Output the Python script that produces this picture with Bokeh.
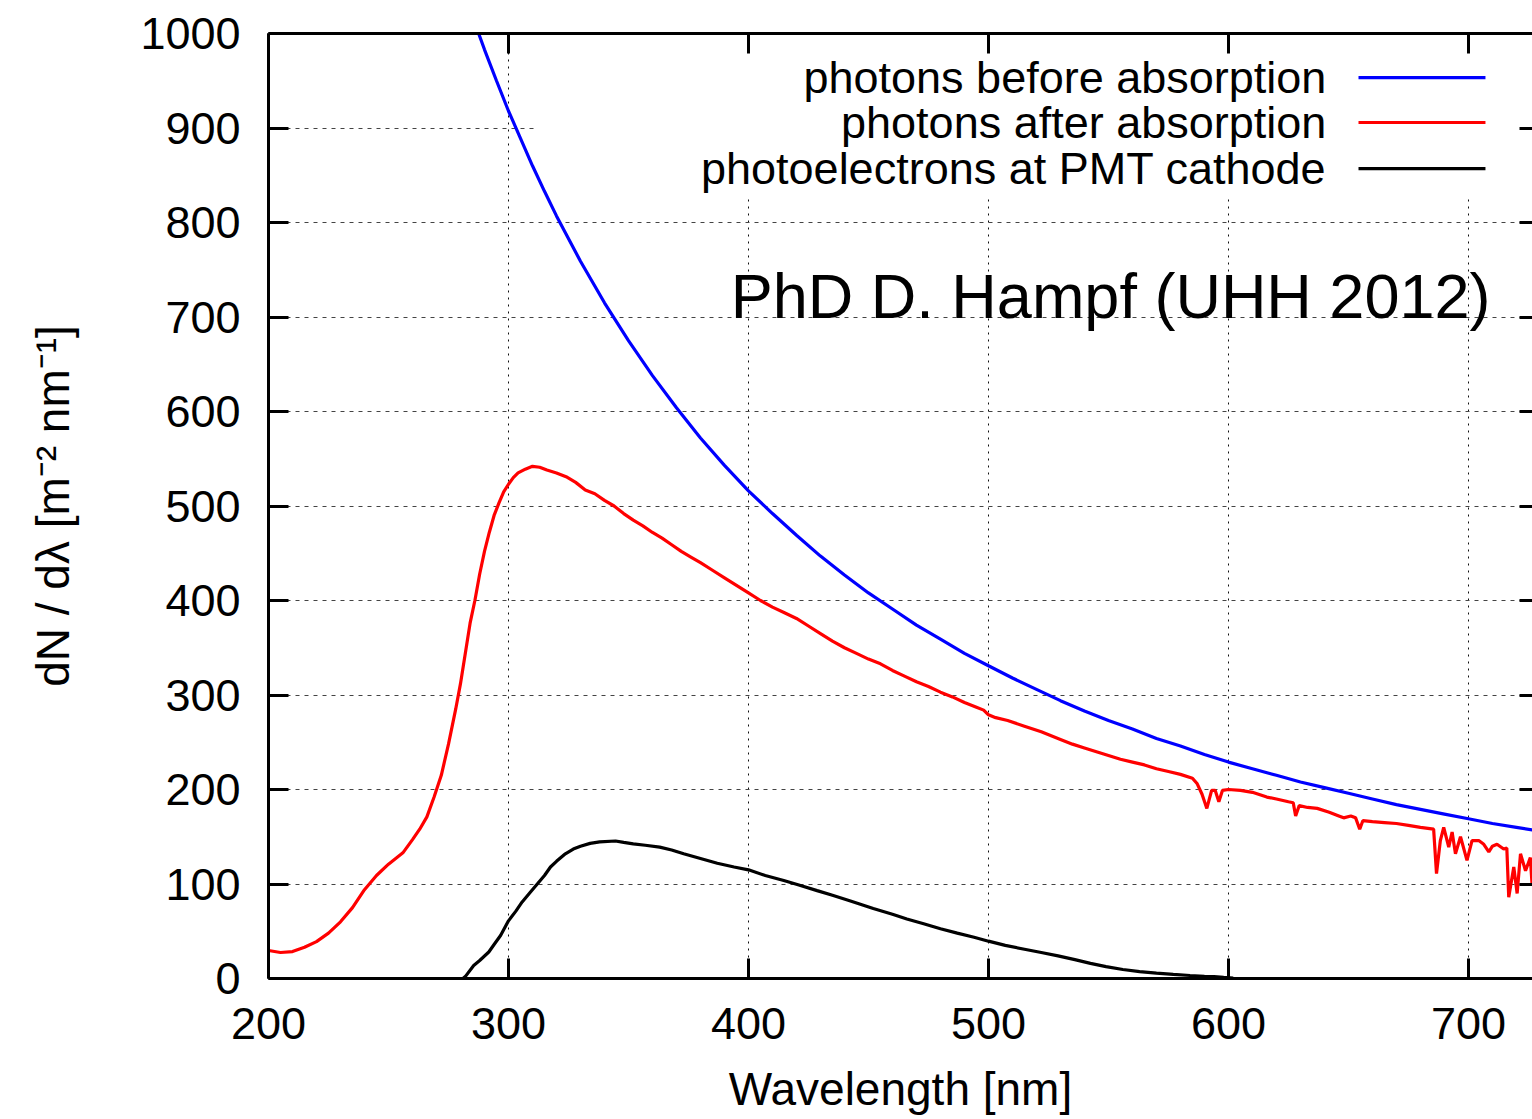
from bokeh.plotting import figure
from bokeh.models import Range1d, LinearAxis, FixedTicker, Label
from bokeh.embed import file_html
from bokeh.resources import INLINE
from bokeh.core.properties import value

FONT = "Liberation Sans"

# ---------------- data ----------------
wl_before = [275, 280, 285, 290, 295, 300, 305, 310, 315, 320, 330, 340, 350, 360, 370,
             380, 390, 400, 410, 420, 430, 440, 450, 460, 470, 480, 490, 500, 510, 520,
             530, 540, 550, 560, 570, 580, 590, 600, 610, 620, 630, 640, 650, 660, 670,
             680, 690, 700, 710, 720, 727]
n_before = [1095, 1055, 1018, 983, 950, 918, 889, 860, 833, 807, 759, 715, 675, 638, 604,
            572, 543, 516, 492, 469, 447, 427, 408, 391, 374, 359, 344, 331, 318, 306,
            294, 283, 273, 264, 254, 246, 237, 229, 222, 215, 208, 202, 196, 190, 184,
            179, 174, 169, 164, 160, 157]

wl_after = [200, 205, 210, 215, 220, 225, 230, 235, 240, 245, 250, 253, 256, 260, 263,
            266, 269, 272, 275, 278, 280, 282, 284, 286, 288, 290, 292, 294, 296, 298,
            300, 302, 304, 307, 310, 313, 316, 320, 324, 328, 332, 336, 340, 344, 348,
            352, 356, 360, 364, 368, 372, 376, 380, 385, 390, 395, 400, 405, 410, 415,
            420, 425, 430, 435, 440, 445, 450, 455, 460, 465, 470, 475, 480, 485, 490,
            495, 498, 500, 503, 508, 515, 522, 530, 535, 540, 545, 550, 555, 560, 565,
            570, 575, 580, 585, 587, 589, 591, 593, 594.5, 596, 597.5, 600, 605, 610, 616,
            620, 625, 627, 628, 629.5, 633, 637, 642, 646, 648, 651, 653, 654.7, 656, 660,
            665, 670, 675, 680, 685.5, 686.7, 688.3, 689.7, 691.8, 693.2, 694.6, 696.7, 699.4, 701.5,
            704.3, 706.4, 708.5, 710, 711.9, 714.7, 716, 716.8, 718.9, 720.3, 721.7, 723.8, 725.8, 726.5]
n_after = [29.6, 27.5, 28.5, 33, 39, 48, 60, 75, 94, 109, 121, 127, 133, 147, 158,
           171, 192, 215, 248, 285, 312, 344, 376, 400, 428, 452, 472, 490, 503, 515,
           523, 530, 535, 539, 542, 541, 538, 535, 531, 525, 517, 513, 506, 500, 492,
           485, 479, 472, 466, 459, 452, 446, 440, 432, 424, 416, 408, 400, 393, 387,
           381, 373, 365, 357, 350, 344, 338, 333, 326, 320, 314, 309, 303, 298, 292,
           287, 284, 279, 276, 273, 267, 261, 253, 248, 244, 240, 236, 232, 229, 226,
           222, 219, 216, 212, 206, 195, 180, 199, 199, 187, 199, 200, 199, 197, 192,
           190, 187, 186, 172, 183, 181, 180, 176, 172, 170, 172, 170, 158, 167, 166,
           165, 164, 162, 160, 158, 111, 146, 160, 139, 155, 132, 150, 125, 146,
           146, 142, 134, 140, 142, 137, 138, 86, 118, 90, 132, 114, 128, 100]

wl_pe = [281, 282, 285.5, 288, 291.8, 294, 296.7, 300, 303, 305.7, 309, 312, 315, 317.5,
         320, 323.7, 327, 330, 334, 338, 344.6, 348, 352, 357, 363, 368, 373, 380, 387,
         394, 400, 407, 414.7, 421, 428.6, 435, 442.5, 452, 460, 466, 473, 480, 487, 494,
         500, 507, 515, 522, 529, 536, 542.5, 549, 556, 563, 570, 577, 584, 590, 594, 598, 602]
n_pe = [0, 2, 13.8, 19, 28, 36, 45.5, 61, 71, 81, 91, 100, 109, 118,
        124, 132, 137, 140, 143, 144.5, 145.5, 144, 142.5, 141, 139, 136, 132, 127, 122,
        118, 115, 109, 103.7, 99, 93, 88, 82, 74, 68, 63, 58, 52.6, 48, 43.7,
        39.5, 35, 31, 27.5, 24, 20, 16, 12.5, 9.5, 7.3, 5.6, 4.3, 3.2, 2.4, 2, 1.2, 0.5]

x_ticks = [200, 300, 400, 500, 600, 700]
y_ticks = [0, 100, 200, 300, 400, 500, 600, 700, 800, 900, 1000]

series_labels = ["photons before absorption", "photons after absorption",
                 "photoelectrons at PMT cathode"]
series_colors = ["#0000ff", "#ff0000", "#000000"]
credit_text = "PhD D. Hampf (UHH 2012)"

# ---------------- layout constants ----------------
X_START, X_END = 200, 726.7
Y_START, Y_END = 0, 1000
KEY_BOX = dict(left=311.3, right=X_END, bottom=828.6, top=Y_END)
KEY_TEXT_X = 640.8
KEY_LINE_X0, KEY_LINE_X1 = 654.2, 707.1
KEY_ROWS_Y = [953.4, 905.8, 857.1]
CREDIT_X, CREDIT_Y = 709.2, 722.5
LINE_W = 3.2
TXT = "45px"

p = figure(width=1532, height=1119, output_backend="svg", toolbar_location=None,
           x_range=Range1d(X_START, X_END), y_range=Range1d(Y_START, Y_END),
           min_border_left=268, min_border_right=0, min_border_top=33,
           min_border_bottom=141, background_fill_color="white",
           border_fill_color="white")
p.outline_line_color = None

xt = FixedTicker(ticks=x_ticks, minor_ticks=[])
yt = FixedTicker(ticks=y_ticks, minor_ticks=[])


def style_axis(ax, show_labels=True, show_line=True, tick_in=20):
    ax.axis_line_width = 3
    ax.axis_line_color = "black" if show_line else None
    ax.major_tick_line_width = 3
    ax.major_tick_in = tick_in
    ax.major_tick_out = 0
    ax.minor_tick_in = 0
    ax.minor_tick_out = 0
    ax.major_label_text_font = FONT
    ax.axis_label_text_font = FONT
    ax.axis_label_text_font_style = "normal"
    ax.axis_label_text_font_size = "46px"
    ax.axis_label_text_color = "black"
    if show_labels:
        ax.major_label_text_font_size = TXT
        ax.major_label_text_color = "black"
    else:
        ax.major_label_text_font_size = "1px"
        ax.major_label_text_color = None
        ax.major_label_standoff = 0


bx = p.below[0]
bx.ticker = xt
style_axis(bx)
bx.axis_label = "Wavelength [nm]"
bx.major_label_standoff = 29
bx.axis_label_standoff = 21

ly = p.left[0]
ly.ticker = yt
style_axis(ly)
ly.axis_label = "dN / dλ [m⁻² nm⁻¹]"
ly.major_label_standoff = 28
ly.axis_label_standoff = 58

top_ax = LinearAxis(ticker=xt)
style_axis(top_ax, show_labels=False)
p.add_layout(top_ax, "above")

right_ax = LinearAxis(ticker=yt)
style_axis(right_ax, show_labels=False, show_line=False, tick_in=13)
p.add_layout(right_ax, "right")

p.xgrid.ticker = xt
p.ygrid.ticker = yt
p.xgrid.grid_line_color = "#111111"
p.xgrid.grid_line_dash = "2 5"
p.xgrid.grid_line_width = 1
p.ygrid.grid_line_color = "#444444"
p.ygrid.grid_line_dash = "4 5"
p.ygrid.grid_line_width = 1

# key background (covers grid lines, under the curves)
p.quad(left=KEY_BOX["left"], right=KEY_BOX["right"], bottom=KEY_BOX["bottom"],
       top=KEY_BOX["top"], fill_color="white", line_color=None)

p.line(wl_before, n_before, line_color=series_colors[0], line_width=LINE_W)
p.line(wl_after, n_after, line_color=series_colors[1], line_width=LINE_W)
p.line(wl_pe, n_pe, line_color=series_colors[2], line_width=LINE_W)

# key
p.text(x=[KEY_TEXT_X] * 3, y=KEY_ROWS_Y, text=series_labels, text_align="right",
       text_baseline="middle", text_font=value(FONT), text_font_size=TXT,
       text_color="black")
p.segment(x0=[KEY_LINE_X0] * 3, x1=[KEY_LINE_X1] * 3, y0=KEY_ROWS_Y, y1=KEY_ROWS_Y,
          line_color=series_colors, line_width=LINE_W)

p.add_layout(Label(x=CREDIT_X, y=CREDIT_Y, text=credit_text, text_align="right",
                   text_baseline="alphabetic", text_font=FONT, text_font_size="63px",
                   text_color="black"))

open("out.html", "w").write(file_html(p, INLINE))
